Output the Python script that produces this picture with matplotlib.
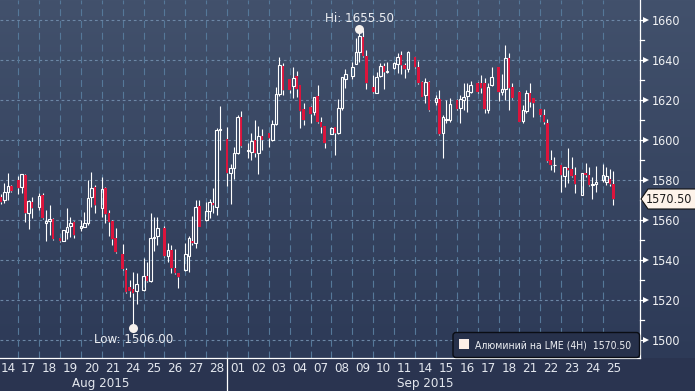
import numpy as np
import matplotlib
matplotlib.use("Agg")
import matplotlib.pyplot as plt
import matplotlib.transforms as mtransforms
from matplotlib.patches import Polygon, FancyBboxPatch, Rectangle

plt.rcParams['font.family'] = 'DejaVu Sans'
plt.rcParams['font.stretch'] = 'condensed'
plt.rcParams['lines.scale_dashes'] = False

# trading days shown on the axis
day_labels = ['14', '17', '18', '19', '20', '21', '24', '25', '26', '27', '28',
              '01', '02', '03', '04', '07', '08', '09', '10', '11',
              '14', '15', '16', '17', '18', '21', '22', '23', '24', '25']
month_labels = ['Aug 2015', 'Sep 2015']
month_pos = [4.96, 20.48]
sep_start = 11
# 4H bars: six slots a day, the last one is the overnight gap
bars_per_day = [4] + [5] * 28 + [4]
first_slot = [1] + [0] * 29

opens = [1571.5, 1570, 1574.2, 1577,
         1580, 1576.7, 1582.5, 1563.3, 1569.2,
         1566.7, 1572.5, 1558.5, 1559.7, 1560.3,
         1550.8, 1549.7, 1554.2, 1557.2, 1559.2,
         1556.2, 1556.7, 1558.3, 1571.3, 1576.7,
         1565.8, 1576.2, 1563.7, 1559.5, 1550.8,
         1542.8, 1535, 1526.5, 1525.3, 1524.7,
         1525, 1532, 1529.7, 1550.8, 1552,
         1556.2, 1542, 1545, 1535.8, 1533.3,
         1535, 1542, 1549.5, 1548.7, 1567,
         1560, 1564.7, 1568.3, 1566.7, 1605,
         1600.3, 1583.3, 1585.8, 1593.3, 1611.3,
         1594.5, 1594.2, 1600, 1593.7, 1602,
         1603.3, 1600, 1608, 1623, 1637,
         1630.3, 1627, 1632, 1627.5, 1615.3,
         1616.3, 1614.2, 1622, 1609.2, 1607,
         1603, 1606.3, 1603.3, 1615.8, 1630.3,
         1632, 1638, 1644.2, 1651.7, 1642,
         1626.7, 1623.7, 1632, 1637, 1634,
         1635.8, 1638, 1642.5, 1637.5, 1635.3,
         1641.3, 1636.3, 1629.2, 1622.5, 1629.2,
         1619.2, 1620.3, 1603.7, 1610, 1610,
         1620, 1615.8, 1620, 1622, 1624.2,
         1628.7, 1628.7, 1628.3, 1615, 1627.5,
         1636.3, 1624.2, 1625.3, 1640.8, 1626.3,
         1624.2, 1609.7, 1614.7, 1623.3, 1620.8,
         1615.3, 1612.5, 1608.7, 1590, 1587.3,
         1587.5, 1582, 1585.8, 1585.3, 1582.5,
         1572.5, 1583.3, 1582.5, 1577.5, 1578,
         1580, 1579.2, 1580.3, 1578]
highs = [1573, 1578.3, 1583.5, 1577.5,
         1582, 1583, 1583, 1570, 1571.7,
         1573.3, 1573.3, 1565, 1567.5, 1560.8,
         1551, 1555.2, 1565.8, 1561.3, 1559.5,
         1560, 1564.2, 1580, 1584.2, 1577.5,
         1581.7, 1576.5, 1565, 1560, 1555.8,
         1548, 1535.8, 1530, 1534.2, 1533.3,
         1540.8, 1539.2, 1563.3, 1561.7, 1561.7,
         1557, 1548.3, 1547.5, 1545.3, 1533.5,
         1548.3, 1552, 1562, 1570, 1570,
         1569.2, 1570.3, 1576, 1605.8, 1617,
         1606.3, 1588, 1596.7, 1612.5, 1614.5,
         1598.3, 1603.3, 1610, 1607, 1605.3,
         1603.5, 1610, 1626.3, 1641.3, 1638.3,
         1630.5, 1636.3, 1634.7, 1627.7, 1618.7,
         1617, 1621.5, 1627.5, 1611.7, 1607.2,
         1606.3, 1606.5, 1620.3, 1631.7, 1635.3,
         1639.2, 1650.8, 1655.5, 1655, 1645,
         1632.5, 1634.2, 1638.7, 1638.7, 1639.2,
         1639.2, 1643.3, 1644.7, 1638.7, 1644.5,
         1641.5, 1639.7, 1629.7, 1631.2, 1629.3,
         1622.5, 1625, 1612.5, 1620, 1620.8,
         1620.3, 1622.5, 1628.3, 1628.3, 1629.5,
         1629, 1632.5, 1630.8, 1628.3, 1636.3,
         1636.5, 1633, 1647.5, 1643.3, 1628.3,
         1624.5, 1617.5, 1625, 1628.3, 1621,
         1615.5, 1615.3, 1610.3, 1595, 1591.7,
         1587.7, 1586.5, 1595.8, 1591.3, 1586.3,
         1583.5, 1588.7, 1586.3, 1581.3, 1587,
         1588, 1586.7, 1585.3, 1584.7]
lows = [1568, 1568.7, 1570, 1574,
        1573, 1573.5, 1559.2, 1555.3, 1560.8,
        1565, 1560.3, 1549.7, 1552.5, 1550,
        1549, 1549.5, 1550.3, 1551.7, 1551.2,
        1554.7, 1556.5, 1557.5, 1566.7, 1563.7,
        1561.7, 1558.3, 1552, 1547.5, 1543.3,
        1535, 1523.3, 1521.7, 1506, 1517.8,
        1524.7, 1529.2, 1529.2, 1544.7, 1547.5,
        1541.7, 1539.2, 1533.3, 1533, 1525.8,
        1534.5, 1534.2, 1547.5, 1545.8, 1556.5,
        1559.7, 1560.8, 1563.3, 1562.5, 1595,
        1577, 1568, 1580.3, 1593, 1596.7,
        1590.8, 1590, 1591.7, 1583, 1595,
        1596.7, 1599.7, 1607.5, 1622, 1622.5,
        1623.7, 1620.8, 1621.7, 1605.8, 1607.5,
        1608.7, 1612.5, 1608.7, 1603.3, 1595.8,
        1602.8, 1592.5, 1603, 1615, 1625.8,
        1630.3, 1637.8, 1639.2, 1641.7, 1625.3,
        1623.7, 1623.3, 1631.3, 1625.3, 1633.3,
        1635.3, 1633.3, 1633, 1630.8, 1634.2,
        1636, 1628, 1621.3, 1618.3, 1614.7,
        1617.5, 1602.5, 1590.8, 1608.7, 1609.2,
        1615, 1608.7, 1615, 1614.2, 1623.3,
        1623.3, 1623.7, 1613.3, 1613.7, 1627,
        1619.7, 1622.5, 1620, 1615, 1620.5,
        1609, 1608.3, 1613.7, 1616.7, 1611.3,
        1612, 1608, 1589.2, 1585, 1584.2,
        1574.2, 1576.3, 1578.3, 1581.7, 1573.3,
        1572.3, 1581.7, 1577, 1570.3, 1574.2,
        1579.2, 1577.5, 1577, 1567.5]
closes = [1569.2, 1574.2, 1577, 1574.7,
          1576.2, 1582.8, 1563.7, 1569.5, 1565.8,
          1572, 1560.8, 1559.5, 1560.3, 1550.3,
          1549.7, 1555, 1556.7, 1558.7, 1552.5,
          1557, 1558.3, 1570.8, 1575.8, 1567.5,
          1575.3, 1563, 1559.2, 1550.3, 1544.2,
          1535.3, 1524.2, 1524.7, 1523.7, 1528,
          1532, 1529.7, 1550.8, 1551.7, 1555.8,
          1542, 1545, 1535.8, 1533.7, 1531.7,
          1542.8, 1550.8, 1548.7, 1566.3, 1556.7,
          1564.7, 1569.2, 1567.5, 1605, 1605.5,
          1583.3, 1585.8, 1593.3, 1611.3, 1597,
          1595, 1599.7, 1593.3, 1602, 1600,
          1600.8, 1608, 1623, 1637.5, 1625,
          1625, 1630.8, 1625.3, 1614.7, 1610,
          1613, 1621.3, 1609.2, 1606.3, 1598.3,
          1605.8, 1603.3, 1615.8, 1631.3, 1633,
          1636.3, 1644.2, 1652, 1642, 1628.3,
          1624.2, 1631.3, 1637, 1634.2, 1634.5,
          1638.3, 1641.3, 1637.5, 1635.3, 1644.2,
          1636.3, 1628.3, 1621.7, 1628.8, 1615,
          1620.8, 1603, 1611.3, 1610.5, 1618,
          1615.3, 1620.3, 1621.3, 1624.7, 1627.5,
          1624.2, 1625.8, 1615.3, 1626.3, 1631.7,
          1624.2, 1625.3, 1640.8, 1625.8, 1620.8,
          1609.2, 1615, 1623.3, 1619.2, 1618.3,
          1612.5, 1609.2, 1589.7, 1587.5, 1587.7,
          1582.5, 1586.3, 1585, 1582, 1578,
          1583.3, 1582.5, 1577.5, 1578, 1579.2,
          1582.5, 1582, 1578, 1570.5]
yticks = np.arange(1500, 1661, 20)
yminor = np.arange(1510, 1661, 20)

t = []
for d, (n, s) in enumerate(zip(bars_per_day, first_slot)):
    for j in range(s, s + n):
        t.append(d + j / 6)
t = np.array(t)
o, h, l, c = map(np.array, (opens, highs, lows, closes))

W, H = 695, 391
fig = plt.figure(figsize=(W / 100, H / 100), dpi=100)

# background: vertical gradient over the plot, flat strip under it
top = np.array([66, 81, 108]) / 255
bot = np.array([45, 58, 87]) / 255
strip = np.array([42, 52, 80]) / 255
rows = np.zeros((H, 1, 3))
f = np.linspace(0, 1, 358)[:, None]
rows[:358, 0, :] = top * (1 - f) + bot * f
rows[358:, 0, :] = strip
bg = fig.add_axes([0, 0, 1, 1], zorder=-10)
bg.imshow(rows, aspect='auto', extent=[0, 1, 0, 1])
bg.axis('off')

ax = fig.add_axes([0, 33 / H, 640 / W, 358 / H])
ax.set_facecolor('none')
x0, x1 = 0.1236, 30.775
ax.set_xlim(x0, x1)
ax.set_ylim(1491, 1670)

ax.hlines(yticks, x0, x1, colors='#6c87a6', linestyles=(0, (2, 2)), lw=0.8, zorder=1)
ax.vlines(np.arange(1, len(day_labels)), 1491, 1670, colors='#557899',
          linestyles=(0, (5, 3.5)), lw=0.8, zorder=1)

up = c >= o
blo = np.minimum(o, c)
bhi = np.maximum(o, c)
ax.vlines(t, bhi, h, color='white', lw=0.8, zorder=2)
ax.vlines(t, l, blo, color='white', lw=0.8, zorder=2)
ax.bar(t[~up], np.maximum(bhi - blo, 0.5)[~up], bottom=blo[~up], width=0.12,
       color='#dc143c', lw=0, zorder=3)
ax.bar(t[up], np.maximum(bhi - blo, 0.4)[up], bottom=blo[up], width=0.125,
       facecolor='none', edgecolor='white', lw=0.8, zorder=3)

for side in ['left', 'top']:
    ax.spines[side].set_visible(False)
for side in ['right', 'bottom']:
    ax.spines[side].set_color('white')
    ax.spines[side].set_linewidth(0.9)

ax.set_xticks(np.arange(len(day_labels)) + 0.5, day_labels)
ax.tick_params(axis='x', length=0, pad=3, colors='#e3e7ee', labelsize=9.5)
ax.yaxis.tick_right()
ax.set_yticks(yticks, [str(v) for v in yticks])
ax.tick_params(axis='y', length=0, pad=8.5, colors='#f2f3f5', labelsize=9)

ty = mtransforms.blended_transform_factory(ax.transAxes, ax.transData)
px = 1 / 640
for v in yticks:
    ax.plot([1, 1 + 4 * px], [v, v], color='white', lw=0.9, transform=ty, clip_on=False)
    ax.plot([1 + 6 * px], [v], marker='>', ms=5, color='white', mew=0,
            transform=ty, clip_on=False)
for v in yminor:
    ax.plot([1, 1 + 4 * px], [v, v], color='white', lw=0.9, transform=ty, clip_on=False)

tx = mtransforms.blended_transform_factory(ax.transData, ax.transAxes)
ax.plot([sep_start, sep_start], [0, -33 / 358], color='white', lw=0.9,
        transform=tx, clip_on=False)
for lab, p in zip(month_labels, month_pos):
    ax.text(p, -25 / 358, lab, transform=tx, ha='center', va='center',
            fontsize=9.5, color='#e3e7ee')

# high / low markers
ih = int(np.argmax(h))
il = int(np.argmin(l))
ax.plot(t[ih], h[ih], 'o', ms=6.5, color='#f6f1ee', mew=0, zorder=5)
ax.plot(t[il], l[il], 'o', ms=6.5, color='#f6f1ee', mew=0, zorder=5)
ax.annotate(f'Hi: {h[ih]:.2f}', (t[ih], h[ih]), xytext=(0, 7.5), textcoords='offset points',
            ha='center', va='center', fontsize=9.5, color='#eceef2', zorder=6)
ax.annotate(f'Low: {l[il]:.2f}', (t[il], l[il]), xytext=(0, -8), textcoords='offset points',
            ha='center', va='center', fontsize=9.5, color='#eceef2', zorder=6)

# legend box
ident = mtransforms.IdentityTransform()
fig.add_artist(FancyBboxPatch((453, H - 357.5), 186.5, 25,
                              boxstyle='round,pad=0,rounding_size=3',
                              fc='#27314b', ec='#0a0d14', lw=1, transform=ident))
fig.add_artist(Rectangle((459, H - 349), 10, 10, fc='#fbeee7', ec='none', transform=ident))
fig.text(475 / W, (H - 345) / H, f'Алюминий на LME (4H)  {c[-1]:.2f}',
         ha='left', va='center', fontsize=7.5, color='#eef0f4')

# last price tag
yl = ax.transData.transform((t[-1], c[-1]))[1]
tag = Polygon([(641, yl), (648, yl + 10), (W + 2, yl + 10), (W + 2, yl - 10), (648, yl - 10)],
              closed=True, fc='#fdf3ea', ec='#111111', lw=0.8, transform=ident)
fig.add_artist(tag)
fig.text(669 / W, yl / H, f'{c[-1]:.2f}', ha='center', va='center',
         fontsize=9, color='#1a1a1a')

fig.savefig('out.png', dpi=100)
